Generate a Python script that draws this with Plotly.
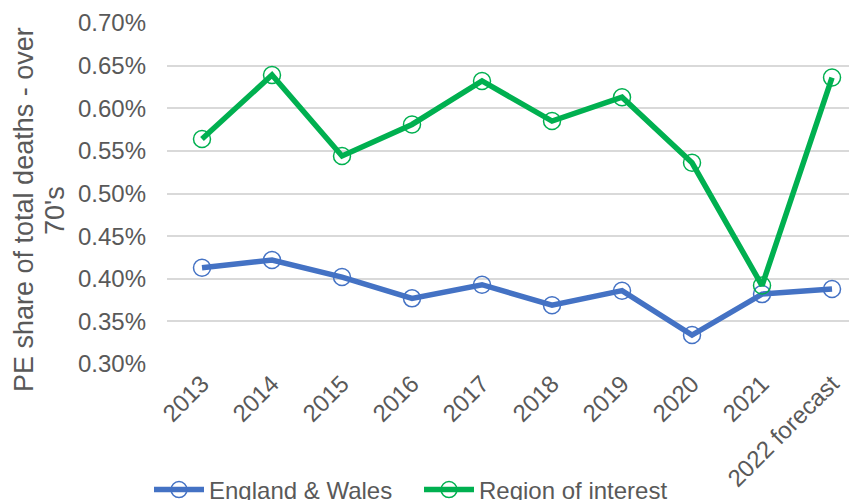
import plotly.graph_objects as go

years = ["2013", "2014", "2015", "2016", "2017", "2018", "2019", "2020", "2021", "2022 forecast"]
england_wales = [0.413, 0.422, 0.402, 0.377, 0.393, 0.369, 0.386, 0.334, 0.382, 0.388]
region_of_interest = [0.564, 0.639, 0.544, 0.581, 0.632, 0.585, 0.613, 0.536, 0.392, 0.636]
y_ticks = [0.30, 0.35, 0.40, 0.45, 0.50, 0.55, 0.60, 0.65, 0.70]
y_title_lines = ["PE share of total deaths - over", "70's"]

font = "Liberation Sans, Arial, sans-serif"
grey = "#595959"

fig = go.Figure()
fig.add_trace(go.Scatter(
    x=years, y=england_wales, name="England & Wales", mode="lines+markers",
    line=dict(color="#4472C4", width=5.5),
    marker=dict(symbol="circle-open", size=17, color="#4472C4", line=dict(width=1.5)),
))
fig.add_trace(go.Scatter(
    x=years, y=region_of_interest, name="Region of interest", mode="lines+markers",
    line=dict(color="#00B050", width=5.5),
    marker=dict(symbol="circle-open", size=17, color="#00B050", line=dict(width=1.5)),
))

# axis title as two rotated lines
for txt, xpx in zip(y_title_lines, [16, 47]):
    fig.add_annotation(text=txt, xref="paper", yref="paper",
                       x=(xpx - 159) / 698, y=0.4516, xanchor="center", yanchor="middle",
                       textangle=-90, showarrow=False,
                       font=dict(size=27, color=grey, family=font))

fig.update_layout(
    width=857, height=500,
    margin=dict(l=159, r=0, t=15, b=144, autoexpand=False),
    paper_bgcolor="white", plot_bgcolor="white",
    font=dict(family=font, size=24, color=grey),
    showlegend=True,
    legend=dict(orientation="h", xref="container", yref="container",
                x=141 / 857, xanchor="left", y=0.036, yanchor="middle",
                font=dict(size=24, color=grey), itemwidth=50, tracegroupgap=0,
                entrywidth=205, entrywidthmode="pixels"),
    xaxis=dict(type="category", range=[-0.5, 9.471], tickangle=-45, automargin=False,
               showgrid=False, showline=False, zeroline=False, ticks="",
               tickfont=dict(size=24, color=grey)),
    yaxis=dict(range=[0.30, 0.70], tickvals=y_ticks, automargin=False,
               ticktext=[f"{v:.2f}%" for v in y_ticks],
               showgrid=True, gridcolor="#d9d9d9", gridwidth=1.5,
               zeroline=False, showline=False, ticks="", ticklabelstandoff=20,
               tickfont=dict(size=24, color=grey)),
)

fig.write_html("out.html")
